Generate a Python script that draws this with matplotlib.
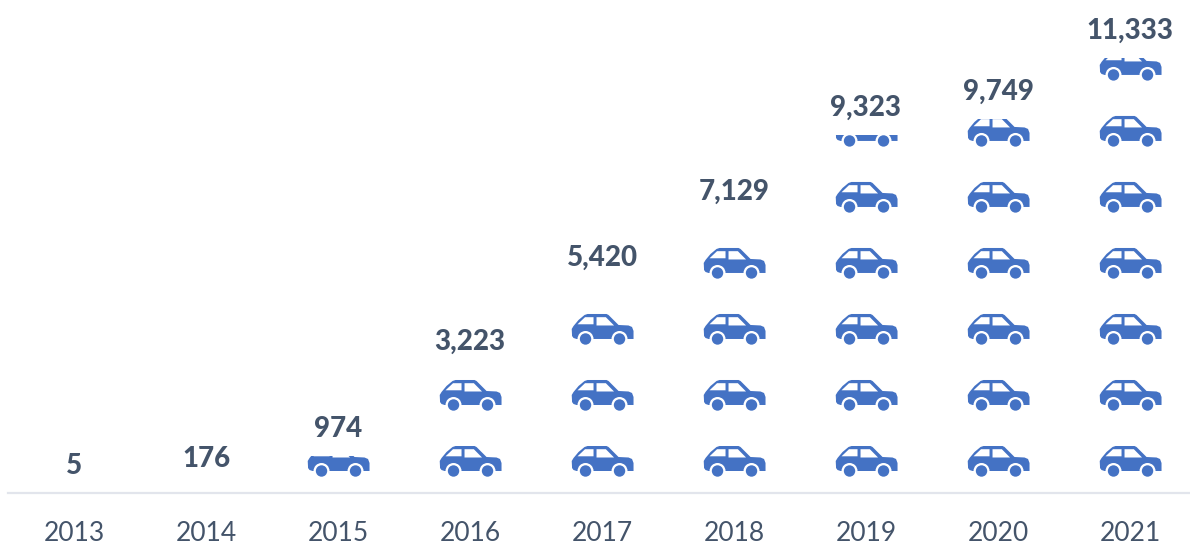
import matplotlib
matplotlib.use("Agg")
import matplotlib.pyplot as plt
from matplotlib.patches import Polygon, Circle, Rectangle
from matplotlib.transforms import Affine2D

years = ["2013", "2014", "2015", "2016", "2017", "2018", "2019", "2020", "2021"]
cars_sold = [5, 176, 974, 3223, 5420, 7129, 9323, 9749, 11333]
labels = ["5", "176", "974", "3,223", "5,420", "7,129", "9,323", "9,749", "11,333"]
units_per_car = 1719

BLUE = "#4472C4"
SLATE = "#44546A"
W, H = 1190, 545
px_per_cat = 132
px_per_val = 0.0384
base_px = 493
first_px = 74

plt.rcParams["font.family"] = ["Lato", "DejaVu Sans"]
fig = plt.figure(figsize=(W / 100, H / 100), dpi=100)
ax = fig.add_axes([8 / W, (H - base_px) / H, (W - 8) / W, base_px / H])
ax.set_xlim((8 - first_px) / px_per_cat, (W - first_px) / px_per_cat)
ax.set_ylim(0, base_px / px_per_val)

for s in ["top", "left", "right"]:
    ax.spines[s].set_visible(False)
ax.spines["bottom"].set_color("#E2E5EC")
ax.spines["bottom"].set_linewidth(1.6)
ax.set_yticks([])
ax.set_xticks(range(len(years)))
ax.set_xticklabels(years, fontsize=19, color=SLATE)
ax.tick_params(axis="x", length=0, pad=20.5)

# car outline in pixels, x from tile centre, y up from the wheel bottoms
body = [(-30.5, 10), (-30.8, 16), (-29, 19), (-24, 25), (-18, 30), (-15, 31), (4, 31),
        (6, 30), (16, 20), (26, 19.5), (29.5, 18), (31, 14), (31, 6), (-26, 6),
        (-29, 7), (-30.5, 9)]
window_l = [(-25, 20.7), (-17.5, 27.8), (-9, 27.8), (-9, 20.7)]
window_r = [(-6, 27.8), (3.3, 27.8), (11.5, 19.5), (-6, 19.5)]
wheels = [-17, 17]


def draw_car(i, k, top):
    # one car in tile k of column i, cut off at the top of the bar
    bottom = k * units_per_car + 16 / px_per_val
    tr = Affine2D().scale(1 / px_per_cat, 1 / px_per_val).translate(i + 0.004, bottom) + ax.transData
    clip = Rectangle((i - 0.5, 0), 1, top, transform=ax.transData)
    parts = [Polygon(body, closed=True, fc=BLUE, ec="none"),
             Polygon(window_l, closed=True, fc="white", ec="none"),
             Polygon(window_r, closed=True, fc="white", ec="none")]
    for p in parts:
        p.set_transform(tr)
        ax.add_patch(p)
        p.set_clip_path(clip)
    # wheels keep a white ring round them
    for cx in wheels:
        for r, col in [(8, "white"), (5.7, BLUE)]:
            c = Circle((cx, 6), r, fc=col, ec="none", transform=tr)
            ax.add_patch(c)
            c.set_clip_path(clip)


for i, v in enumerate(cars_sold):
    k = 0
    while k * units_per_car < v:
        draw_car(i, k, v)
        k += 1
    ax.annotate(labels[i], (i, v), xytext=(0, 19.5), textcoords="offset points",
                ha="center", va="center", fontsize=20, fontweight="black", color=SLATE,
                annotation_clip=False)

fig.savefig("out.png", dpi=100)
